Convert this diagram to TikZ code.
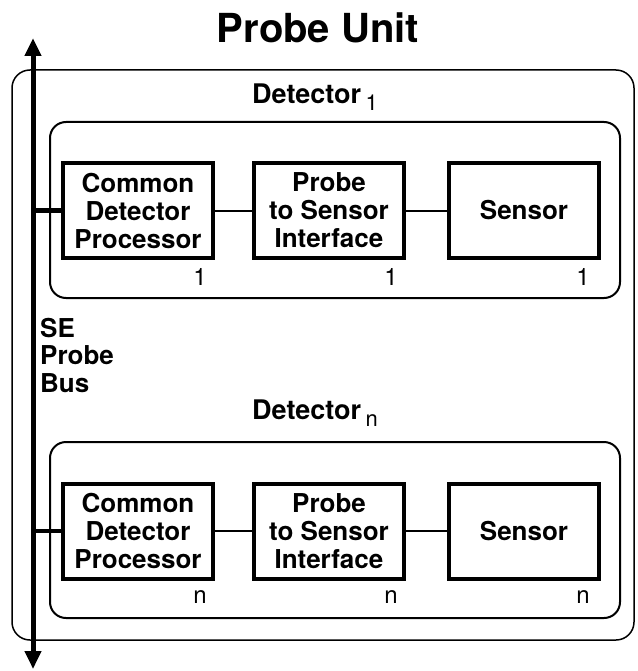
\documentclass[tikz,border=0pt]{standalone}
\usepackage{fontspec}
\setmainfont{TeX Gyre Heros}
\usetikzlibrary{arrows.meta,calc}

\tikzset{
  block/.style={draw, line width=4pt, minimum width=150pt, minimum height=95pt,
    align=center, inner sep=0pt, font=\fontsize{26}{28}\selectfont\bfseries},
  detbox/.style={draw, line width=2pt, rounded corners=16pt,
    minimum width=570pt, minimum height=176pt, inner sep=0pt},
  unitbox/.style={draw, line width=1.5pt, rounded corners=18pt,
    minimum width=622pt, minimum height=570pt, inner sep=0pt},
  link/.style={line width=2pt},
  stub/.style={line width=4.5pt},
  bus/.style={line width=5pt, {Triangle[width=16pt,length=18pt]}-{Triangle[width=16pt,length=18pt]}},
  idx/.style={font=\fontsize{24}{26}\selectfont, inner sep=0pt},
  dettitle/.style={font=\fontsize{27}{30}\selectfont\bfseries, inner sep=0pt},
}

\begin{document}
\begin{tikzpicture}[x=1pt, y=-1pt]
  \useasboundingbox (0,0) rectangle (637,671);

  % enclosing probe unit
  \node[unitbox] (unit) at (323,355) {};
  \node[font=\fontsize{40}{44}\selectfont\bfseries, inner sep=0pt] (unittitle) at (318,28) {Probe Unit};

  % detector 1
  \node[detbox] (det1) at (335,210) {};
  \node[dettitle] (det1title) at (315,97) {Detector\,\raisebox{-0.45ex}{\mdseries\fontsize{22}{24}\selectfont 1}};
  \node[block] (cdp1) at (138,210.5) {Common\\Detector\\Processor};
  \node[block] (psi1) at (329,210.5) {Probe\\to Sensor\\Interface};
  \node[block] (sen1) at (524,210.5) {Sensor};
  \node[idx] (cdp1n) at ($(cdp1.south east)+(-15,17)$) {1};
  \node[idx] (psi1n) at ($(psi1.south east)+(-15,17)$) {1};
  \node[idx] (sen1n) at ($(sen1.south east)+(-18,17)$) {1};
  \draw[link] (cdp1.east) -- (psi1.west);
  \draw[link] (psi1.east) -- (sen1.west);

  % detector n
  \node[detbox] (detn) at (335,530) {};
  \node[dettitle] (detntitle) at (315,413) {Detector\,\raisebox{-0.45ex}{\mdseries\fontsize{22}{24}\selectfont n}};
  \node[block] (cdpn) at (138,531) {Common\\Detector\\Processor};
  \node[block] (psin) at (329,531) {Probe\\to Sensor\\Interface};
  \node[block] (senn) at (524,531) {Sensor};
  \node[idx] (cdpnn) at ($(cdpn.south east)+(-15,17)$) {n};
  \node[idx] (psinn) at ($(psin.south east)+(-15,17)$) {n};
  \node[idx] (sennn) at ($(senn.south east)+(-18,17)$) {n};
  \draw[link] (cdpn.east) -- (psin.west);
  \draw[link] (psin.east) -- (senn.west);

  % SE probe bus
  \coordinate (bustop) at (33,38);
  \coordinate (busbot) at (33,669);
  \draw[bus] (busbot) -- (bustop);
  \draw[stub] (cdp1.west -| bustop) -- (cdp1.west);
  \draw[stub] (cdpn.west -| bustop) -- (cdpn.west);
  \node[anchor=west, align=left, inner sep=0pt,
        font=\fontsize{26}{27.5}\selectfont\bfseries] (buslabel) at (40,355) {SE\\Probe\\Bus};
\end{tikzpicture}
\end{document}
